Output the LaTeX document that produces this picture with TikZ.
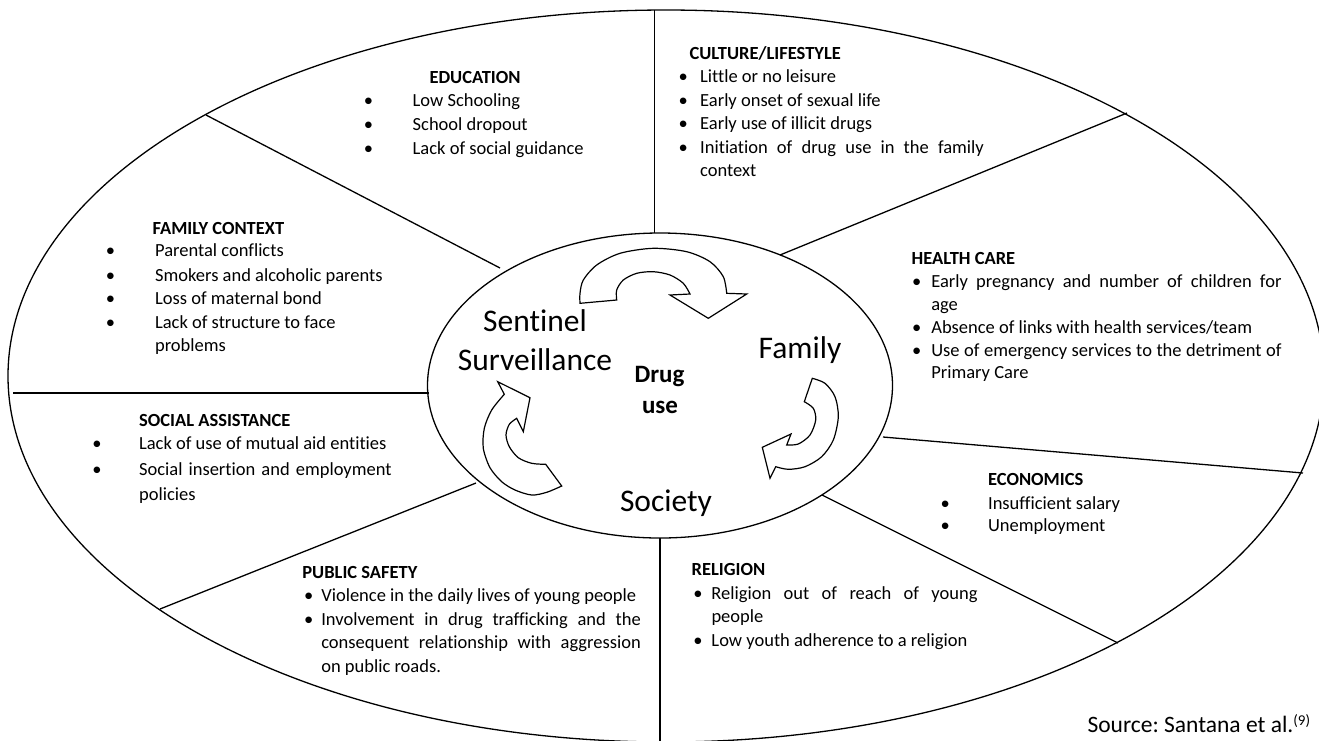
\documentclass[tikz,border=0pt]{standalone}
\usepackage{fontspec}
\setmainfont{Carlito}[Ligatures=NoCommon]
\usetikzlibrary{shapes.geometric}
\frenchspacing
\newcommand\blt[1]{\llap{\makebox[0pt][c]{\textbullet}\hspace{#1}}}
\newcommand\jl[2]{\makebox[#1][s]{#2}}
\begin{document}
\begin{tikzpicture}[x=1pt,y=-1pt,
  ring/.style={ellipse, draw, line width=1.3pt, inner sep=0pt, outer sep=0pt},
  sepline/.style={line width=1.3pt},
  txt/.style={anchor=base west, inner sep=0pt, font=\fontsize{18.5}{22}\selectfont},
  hd/.style={anchor=base west, inner sep=0pt, font=\fontsize{18.5}{22}\selectfont\bfseries},
  big/.style={anchor=base, inner sep=0pt, font=\fontsize{31.5}{36}\selectfont},
  core/.style={anchor=base, inner sep=0pt, font=\fontsize{25}{28}\selectfont\bfseries},
  blockarrow/.style={draw, fill=white, line width=1.2pt, line join=miter}]
\useasboundingbox (0,0) rectangle (1319,740);

% ellipses
\node[ring, minimum width=1316pt, minimum height=732pt] (outer) at (666,376) {};
\node[ring, minimum width=465pt, minimum height=305pt] (inner) at (660,385.5) {};

% separators
\coordinate (i1) at (500,268);   \coordinate (o1) at (206,115);
\coordinate (i2) at (654.5,233); \coordinate (o2) at (654.5,10);
\coordinate (i3) at (780,255);   \coordinate (o3) at (1127,113);
\coordinate (i4) at (883,437);   \coordinate (o4) at (1303,473);
\coordinate (i5) at (822,495);   \coordinate (o5) at (1118,643);
\coordinate (i6) at (660,538);   \coordinate (o6) at (660,742);
\coordinate (i7) at (476,483);   \coordinate (o7) at (160,609);
\coordinate (i8) at (429,393);   \coordinate (o8) at (13,393);
\foreach \k in {1,...,8} \draw[sepline] (i\k) -- (o\k);

% curved block arrows
\draw[blockarrow] (580,303.3) -- (616.7,300)
  -- plot[smooth] coordinates {(616.7,300) (616.7,290) (623.3,280) (636.7,273.3) (653.3,271.7) (670,275) (683.3,283.3) (690,294)}
  -- (670,295) -- (708.3,318.3) -- (746.7,294) -- (726.7,293.3)
  -- plot[smooth] coordinates {(726.7,293.3) (723.3,276.7) (710,261.7) (686.7,251.7) (653.3,248.3) (620,253.3) (596.7,265) (583.3,280) (580,293.3) (580,303.3)}
  -- cycle;
\draw[blockarrow] (812.3,378.3)
  -- plot[smooth] coordinates {(812.3,378.3) (825,383.3) (835,396.7) (838.3,416.7) (833.3,440) (821.7,456.7) (805,466.7) (788.3,469.3) (775.7,466.7)}
  -- (770,478.3) -- (762.3,447.3) -- (791,434) -- (786.7,445)
  -- plot[smooth] coordinates {(786.7,445) (798.3,444) (810,435) (815.7,420) (813.3,408.3) (804.3,401.7)}
  -- cycle;
\draw[blockarrow] (561.7,486)
  -- plot[smooth] coordinates {(561.7,486) (546.7,492.3) (531.7,495) (515,490) (501.7,481.7) (490,467.7) (483.3,448.3) (484.3,428.3) (491.7,410) (504.3,394.3)}
  -- (497.7,381.7) -- (530,397.7) -- (523.3,431.7) -- (516.7,418.3)
  -- plot[smooth] coordinates {(516.7,418.3) (509.3,424.3) (506,435) (509.3,446.7) (518.3,457.7) (531.7,463.3) (545.7,464.3)}
  -- cycle;

% centre labels
\node[big] (sen) at (535,331.7) {Sentinel};
\node[big] (sur) at (535,370.7) {Surveillance};
\node[big] (fam) at (800,358.3) {Family};
\node[big] (soc) at (666,511.7) {Society};
\node[core] (drug) at (659.5,382.7) {Drug};
\node[core] (use) at (660,413.3) {use};

% EDUCATION
\node[hd] (eduh) at (429.3,83.3) {EDUCATION};
\node[txt] (edu1) at (412.5,106) {\blt{44.2pt}Low Schooling};
\node[txt] (edu2) at (412.5,130.2) {\blt{44.2pt}School dropout};
\node[txt] (edu3) at (412.5,154.4) {\blt{44.2pt}Lack of social guidance};

% FAMILY CONTEXT
\node[hd] (famh) at (152.4,234) {FAMILY CONTEXT};
\node[txt] (fam1) at (154.9,256.5) {\blt{44.6pt}Parental conflicts};
\node[txt] (fam2) at (154.9,281) {\blt{44.6pt}Smokers and alcoholic parents};
\node[txt] (fam3) at (154.9,304.5) {\blt{44.6pt}Loss of maternal bond};
\node[txt] (fam4) at (154.9,328.5) {\blt{44.6pt}Lack of structure to face};
\node[txt] (fam5) at (154.9,351) {problems};

% CULTURE/LIFESTYLE
\node[hd] (culh) at (689.4,59.3) {CULTURE/LIFESTYLE};
\node[txt] (cul1) at (700,82.7) {\blt{17pt}Little or no leisure};
\node[txt] (cul2) at (700,106) {\blt{17pt}Early onset of sexual life};
\node[txt] (cul3) at (700,129.3) {\blt{17pt}Early use of illicit drugs};
\node[txt] (cul4) at (700,153.3) {\blt{17pt}\jl{283.7pt}{Initiation of drug use in the family}};
\node[txt] (cul5) at (700,176) {context};

% HEALTH CARE
\node[hd] (heah) at (911.4,264) {HEALTH CARE};
\node[txt] (hea1) at (931.1,287.3) {\blt{14.7pt}\jl{350.2pt}{Early pregnancy and number of children for}};
\node[txt] (hea2) at (931.1,310) {age};
\node[txt] (hea3) at (931.1,333.3) {\blt{14.7pt}Absence of links with health services/team};
\node[txt] (hea4) at (931.1,356) {\blt{14.7pt}\jl{350.2pt}{Use of emergency services to the detriment of}};
\node[txt] (hea5) at (931.1,378.5) {Primary Care};

% SOCIAL ASSISTANCE
\node[hd] (sash) at (138.9,426) {SOCIAL ASSISTANCE};
\node[txt] (sas1) at (138.9,449.3) {\blt{42.1pt}Lack of use of mutual aid entities};
\node[txt] (sas2) at (138.9,475) {\blt{42.1pt}\jl{252.5pt}{Social insertion and employment}};
\node[txt] (sas3) at (138.9,500.5) {policies};

% PUBLIC SAFETY
\node[hd] (pubh) at (302.2,578.3) {PUBLIC SAFETY};
\node[txt] (pub1) at (321.1,601.7) {\blt{12.6pt}Violence in the daily lives of young people};
\node[txt] (pub2) at (321.1,625.3) {\blt{12.6pt}\jl{319.5pt}{Involvement in drug trafficking and the}};
\node[txt] (pub3) at (321.1,648.6) {\jl{319.5pt}{consequent relationship with aggression}};
\node[txt] (pub4) at (321.1,672) {on public roads.};

% RELIGION
\node[hd] (relh) at (691.5,575.7) {RELIGION};
\node[txt] (rel1) at (711.3,599.3) {\blt{13.5pt}\jl{266.1pt}{Religion out of reach of young}};
\node[txt] (rel2) at (711.3,622.6) {people};
\node[txt] (rel3) at (711.3,646) {\blt{13.5pt}Low youth adherence to a religion};

% ECONOMICS
\node[hd] (ecoh) at (987.9,485) {ECONOMICS};
\node[txt] (eco1) at (987.9,509.3) {\blt{42.9pt}Insufficient salary};
\node[txt] (eco2) at (987.9,531.7) {\blt{42.9pt}Unemployment};

% source
\node[anchor=base west, inner sep=0pt, font=\fontsize{23.5}{26}\selectfont] (src) at (1087.3,732.7)
  {Source: Santana et al.\raisebox{7.7pt}{\fontsize{15}{15}\selectfont(9)}};
\end{tikzpicture}
\end{document}
